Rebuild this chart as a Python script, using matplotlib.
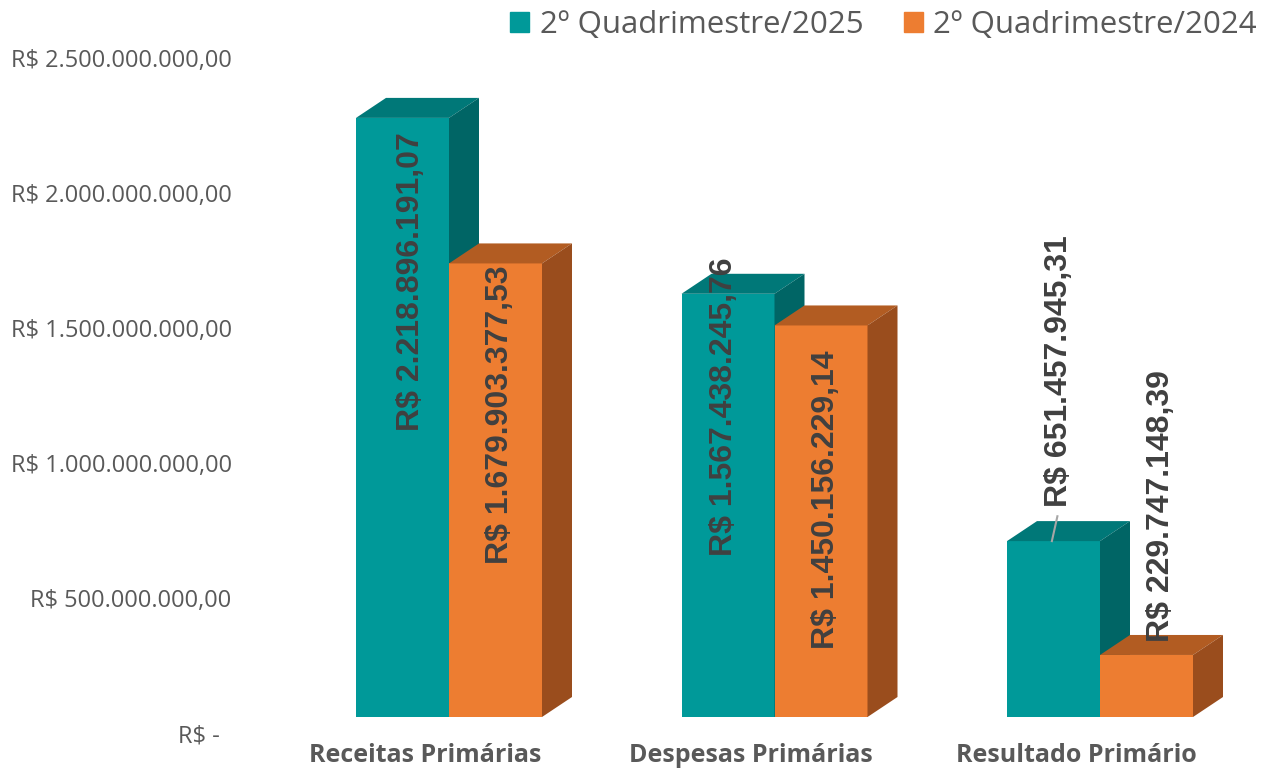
import numpy as np
import matplotlib
matplotlib.use("Agg")
import matplotlib.pyplot as plt
from matplotlib.patches import Polygon, Patch
from matplotlib.transforms import ScaledTranslation

categorias = ["Receitas Primárias", "Despesas Primárias", "Resultado Primário"]
serie_2025 = [2218896191.07, 1567438245.76, 651457945.31]
serie_2024 = [1679903377.53, 1450156229.14, 229747148.39]
nomes = ["2º Quadrimestre/2025", "2º Quadrimestre/2024"]
yticks = [0, 5e8, 1e9, 1.5e9, 2e9, 2.5e9]


def brl(v):
    if v == 0:
        return "R$ -  "
    s = f"{v:,.2f}".replace(",", "X").replace(".", ",").replace("X", ".")
    return "R$ " + s


# cores: frente, topo, lateral
teal = ("#009999", "#007878", "#006565")
laranja = ("#ED7D31", "#B25C22", "#9A4D1D")

fig = plt.figure(figsize=(12.62, 7.79), dpi=100)
ax = fig.add_axes([240 / 1262, 62 / 779, 1022 / 1262, 702 / 779])

x = np.arange(len(categorias))
w = 93 / 325.5
dx = 30 / 325.5        # profundidade 3D (dados x)
dy = 20 / 270 * 1e9    # profundidade 3D (dados y)


def barra3d(xc, v, cores, label=None):
    x0, x1 = xc - w / 2, xc + w / 2
    ax.bar(xc, v, width=w, color=cores[0], label=label, zorder=2,
           edgecolor="none")
    topo = Polygon([(x0, v), (x1, v), (x1 + dx, v + dy), (x0 + dx, v + dy)],
                   closed=True, facecolor=cores[1], edgecolor="none", zorder=2)
    lado = Polygon([(x1, 0), (x1, v), (x1 + dx, v + dy), (x1 + dx, dy)],
                   closed=True, facecolor=cores[2], edgecolor="none", zorder=2)
    ax.add_patch(topo)
    ax.add_patch(lado)


for i in range(len(categorias)):
    barra3d(x[i] - w / 2, serie_2025[i], teal, nomes[0] if i == 0 else None)
    barra3d(x[i] + w / 2, serie_2024[i], laranja, nomes[1] if i == 0 else None)

# rotulos de dados (posicao manual, como no original)
dx_2025 = [-0.117, -0.154, -0.126]
dx_2024 = [0.157, 0.157, 0.187]
topo_2025 = [2.167e9, 1.700e9, 1.785e9]
topo_2024 = [1.674e9, 1.359e9, 1.285e9]
fonte_rot = dict(family="Liberation Sans", weight="bold", size=23,
                 color="#404040", rotation=90, ha="center", va="top", zorder=5)
for i in range(len(categorias)):
    ax.text(x[i] + dx_2025[i], topo_2025[i], brl(serie_2025[i]), **fonte_rot)
    ax.text(x[i] + dx_2024[i], topo_2024[i], brl(serie_2024[i]), **fonte_rot)

# linha guia do rotulo do resultado
xr = x[2] - w / 2
ax.plot([xr - 0.005, xr + 0.012], [serie_2025[2], serie_2025[2] + 0.092e9],
        color="#A6A6A6", lw=1.5, zorder=3)

ax.set_xlim((240 - 449) / 325.5, (1262 - 449) / 325.5)
ax.set_ylim(0, 2.6e9)

ax.set_yticks(yticks)
ax.set_yticklabels([brl(v) for v in yticks], family="Open Sans",
                   fontsize=17, color="#595959")
ax.tick_params(axis="y", length=0, pad=6)
off_y = ScaledTranslation(0, -16 / 100, fig.dpi_scale_trans)
for lab in ax.get_yticklabels():
    lab.set_transform(lab.get_transform() + off_y)

ax.set_xticks(x)
ax.set_xticklabels(categorias, family="Open Sans", fontweight="bold",
                   fontsize=18, color="#595959")
ax.tick_params(axis="x", length=0, pad=19)
off_x = ScaledTranslation(-24 / 100, 0, fig.dpi_scale_trans)
for lab in ax.get_xticklabels():
    lab.set_transform(lab.get_transform() + off_x)

for s in ax.spines.values():
    s.set_visible(False)

handles = [Patch(color=teal[0]), Patch(color=laranja[0])]
fig.legend(handles, nomes, loc="center right", ncol=2, frameon=False,
           bbox_to_anchor=(1 + 0.006, 1 - 25 / 779),
           prop=dict(family="Open Sans", size=22.5), labelcolor="#595959",
           handlelength=0.6, handleheight=0.6, handletextpad=0.35,
           columnspacing=1.3, borderaxespad=0)

fig.savefig("out.png", dpi=100, facecolor="white")
